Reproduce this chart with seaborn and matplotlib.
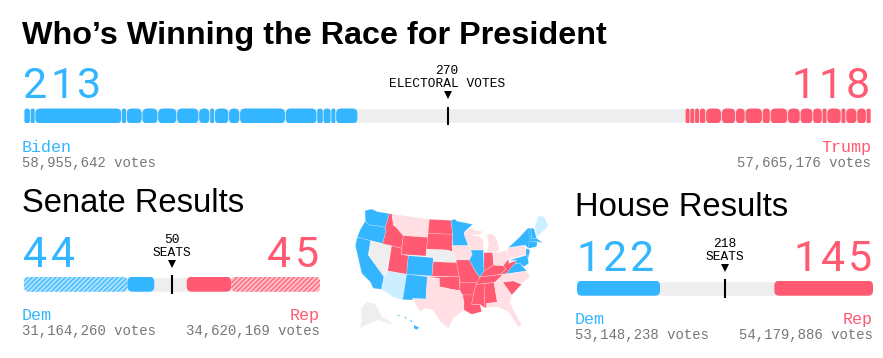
"""Election night results: presidential, senate and house seat bars plus a state map."""

import matplotlib.pyplot as plt
import numpy as np
import pandas as pd
import seaborn as sns
from matplotlib.patches import FancyBboxPatch, Polygon

WIDTH, HEIGHT = 883, 358

BLUE = "#33b6ff"
RED = "#ff5a72"
LIGHT_BLUE = "#cdeeff"
PINK = "#ffdfe3"
TRACK = "#eeeeee"
GRAY = "#777777"

biden_states = [4, 3, 55, 3, 10, 10, 12, 14, 7, 3, 9, 7, 29, 20, 4, 5, 3, 14]
trump_states = [3, 3, 3, 4, 10, 9, 6, 11, 5, 11, 8, 8, 6, 3, 9, 3, 7, 6, 3]
senate_dem = [35, 9]
senate_rep = [15, 30]
house_dem = [122]
house_rep = [145]

electoral_total, electoral_mid = 538, 269
senate_total, senate_mid = 100, 50
house_total, house_mid = 435, 217.5

# state outlines, grouped by call
state_shapes = {
    "WA": [(75, 47), (95, 42), (112, 50), (148, 56), (136, 97), (108, 92), (86, 90), (76, 78)],
    "OR": [(76, 78), (86, 90), (108, 92), (136, 97), (138, 108), (128, 146), (92, 137), (52, 126), (60, 105)],
    "CA": [(52, 126), (92, 137), (85, 180), (132, 245), (125, 283), (100, 280), (90, 260), (65, 235), (55, 190), (46, 152)],
    "NV": [(92, 137), (155, 152), (135, 245), (132, 245), (85, 180)],
    "ID": [(148, 56), (156, 57), (160, 90), (172, 100), (190, 122), (185, 160), (155, 152), (128, 146), (138, 108), (136, 97)],
    "MT": [(156, 57), (268, 73), (263, 127), (190, 122), (172, 100), (160, 90)],
    "WY": [(190, 122), (263, 127), (258, 183), (183, 178)],
    "UT": [(155, 152), (185, 160), (183, 178), (205, 182), (200, 238), (143, 228)],
    "AZ": [(143, 228), (200, 238), (188, 314), (163, 308), (124, 283), (132, 245), (135, 245)],
    "CO": [(205, 182), (280, 188), (276, 243), (200, 238)],
    "NM": [(200, 238), (262, 245), (258, 312), (218, 310), (218, 315), (188, 314)],
    "ND": [(268, 73), (333, 76), (338, 118), (264, 115)],
    "SD": [(264, 115), (338, 118), (336, 158), (338, 170), (320, 165), (260, 163)],
    "NE": [(260, 163), (320, 165), (338, 170), (348, 195), (350, 203), (280, 200), (280, 188), (258, 183)],
    "KS": [(280, 200), (350, 203), (358, 245), (276, 243)],
    "OK": [(262, 245), (358, 245), (360, 287), (330, 282), (298, 275), (298, 250), (262, 250)],
    "TX": [(262, 245), (298, 250), (298, 275), (330, 282), (360, 287), (368, 300), (372, 320), (372, 345), (340, 370),
           (325, 400), (300, 380), (280, 345), (255, 340), (240, 350), (218, 312), (258, 312)],
    "MN": [(333, 76), (345, 72), (350, 78), (398, 88), (372, 112), (375, 125), (385, 152), (338, 152), (338, 118)],
    "IA": [(338, 152), (385, 152), (392, 165), (397, 178), (388, 195), (348, 195), (338, 170)],
    "MO": [(348, 195), (388, 195), (410, 235), (420, 246), (412, 262), (360, 262), (358, 245)],
    "AR": [(360, 262), (412, 262), (408, 268), (400, 300), (368, 300), (360, 287)],
    "LA": [(368, 300), (400, 300), (395, 328), (420, 328), (425, 350), (395, 358), (372, 345), (372, 320)],
    "MS": [(408, 268), (435, 266), (433, 338), (420, 328), (395, 328), (400, 300)],
    "AL": [(435, 266), (462, 262), (472, 322), (440, 325), (440, 338), (433, 338)],
    "TN": [(408, 268), (420, 246), (490, 238), (465, 262)],
    "KY": [(420, 246), (432, 228), (461, 210), (490, 212), (498, 222), (482, 238)],
    "IL": [(392, 165), (430, 165), (432, 228), (420, 246), (410, 235), (388, 195), (397, 178)],
    "IN": [(432, 173), (458, 172), (461, 210), (432, 228)],
    "WI": [(372, 112), (398, 120), (420, 125), (430, 135), (430, 165), (392, 165), (385, 152), (375, 125)],
    "MI": [(440, 120), (455, 115), (465, 125), (470, 135), (478, 160), (470, 172), (440, 172), (446, 145)],
    "MI_U": [(372, 113), (395, 98), (400, 105), (430, 110), (420, 118), (400, 120)],
    "OH": [(458, 172), (478, 172), (500, 165), (505, 192), (490, 212), (461, 210)],
    "WV": [(490, 212), (505, 192), (507, 205), (530, 196), (525, 205), (498, 238), (482, 238), (498, 222)],
    "PA": [(502, 160), (555, 150), (562, 178), (505, 192)],
    "NY": [(505, 158), (540, 125), (563, 100), (572, 100), (578, 145), (565, 160), (555, 150)],
    "VT": [(563, 100), (572, 100), (575, 130), (570, 130)],
    "NH": [(572, 100), (582, 100), (590, 130), (575, 130)],
    "ME": [(585, 95), (595, 62), (612, 65), (625, 93), (598, 120), (590, 125)],
    "MA": [(570, 130), (590, 130), (608, 143), (590, 140), (570, 140)],
    "CT": [(566, 140), (592, 140), (590, 155), (566, 160)],
    "NJ": [(558, 160), (570, 165), (565, 188), (558, 182)],
    "MD": [(507, 196), (562, 180), (566, 205), (552, 215), (540, 205), (525, 205), (530, 196)],
    "VA": [(475, 240), (498, 236), (525, 205), (540, 205), (560, 228)],
    "NC": [(465, 262), (490, 238), (560, 228), (570, 245), (545, 265), (520, 258), (488, 262)],
    "SC": [(488, 262), (520, 258), (545, 268), (515, 300)],
    "GA": [(462, 262), (488, 262), (515, 300), (510, 325), (472, 322)],
    "FL": [(440, 325), (472, 322), (510, 325), (545, 390), (535, 395), (505, 350), (470, 335), (440, 338)],
    "AK": [(80, 322), (105, 325), (125, 365), (158, 385), (150, 388), (115, 375), (90, 385), (60, 400), (65, 370), (62, 340)],
    "HI1": [(172, 360), (179, 360), (177, 365)],
    "HI2": [(192, 365), (200, 367), (198, 372)],
    "HI3": [(208, 375), (218, 378), (214, 382)],
    "HI4": [(222, 390), (238, 398), (230, 404), (222, 400)],
}
dem_states = ["WA", "OR", "CA", "CO", "NM", "MN", "IL", "VA", "NY", "VT", "NH", "MA", "CT", "NJ", "MD",
              "HI1", "HI2", "HI3", "HI4"]
lean_dem_states = ["ME", "AZ"]
lean_rep_states = ["MT", "TX", "WI", "MI", "MI_U", "OH", "PA", "GA", "NC", "FL", "IA"]
open_states = ["NV", "NE", "AK"]


def px_axes(fig, left, top, width, height):
    """Add axes placed with pixel coordinates measured from the top left."""
    ax = fig.add_axes([left / WIDTH, 1 - (top + height) / HEIGHT, width / WIDTH, height / HEIGHT])
    ax.axis("off")
    return ax


def rounded_bar(ax, start, size, color, px_per_unit, radius=5, hatch=None, face=None):
    """Draw one bar with seaborn, then swap it for a rounded copy."""
    frame = pd.DataFrame({"seats": [size], "row": ["a"]})
    sns.barplot(data=frame, x="seats", y="row", left=start, width=1, color=color, ax=ax, orient="h")
    bar = ax.patches[-1]
    bar.remove()
    height_px = 15
    rounding = min(radius / px_per_unit, size / 2)
    box = FancyBboxPatch(
        (start, -0.5), size, 1,
        boxstyle=f"round,pad=0,rounding_size={rounding}",
        mutation_aspect=px_per_unit / height_px,
        facecolor=face or color, edgecolor=color if hatch else "none",
        hatch=hatch, linewidth=0,
    )
    ax.add_patch(box)


def seat_bar(fig, left, top, width, total, mid, dem, rep, gap=0.0, hatched=(None, None)):
    """Seat track with blue segments from the left and red ones from the right."""
    ax = px_axes(fig, left, top, width, 15)
    scale = width / total
    frame = pd.DataFrame({"seats": [total], "row": ["a"]})
    sns.barplot(data=frame, x="seats", y="row", width=1, color=TRACK, saturation=1, ax=ax, orient="h")

    for i, (start, size) in enumerate(zip(np.cumsum([0] + dem[:-1]), dem)):
        if hatched[0] == i:
            rounded_bar(ax, start, size, BLUE, scale, hatch="///////", face="#a8e0ff")
        else:
            rounded_bar(ax, start + gap / 2, size - gap, BLUE, scale)
    rep_start = total - sum(rep)
    for i, (start, size) in enumerate(zip(rep_start + np.cumsum([0] + rep[:-1]), rep)):
        if hatched[1] == i:
            rounded_bar(ax, start, size, RED, scale, hatch="///////", face="#ffbcc5")
        else:
            rounded_bar(ax, start + gap / 2, size - gap, RED, scale)

    ax.set_xlim(0, total)
    ax.set_ylim(0.5, -0.5)
    ax.axis("off")
    ax.plot([mid, mid], [-0.63, 0.63], color="black", lw=1.5, clip_on=False, solid_capstyle="butt", zorder=5)
    ax.plot([mid], [-1.37], marker="v", color="black", ms=6, mew=0, clip_on=False, zorder=5)
    return ax


sns.set_theme(style="white")
plt.rcParams["hatch.linewidth"] = 0.8

fig = plt.figure(figsize=(WIDTH / 100, HEIGHT / 100), dpi=100, facecolor="white")

seat_bar(fig, 24, 108.5, 847, electoral_total, electoral_mid, biden_states, trump_states, gap=0.5)
seat_bar(fig, 24, 276.7, 296, senate_total, senate_mid, senate_dem, senate_rep, hatched=(0, 1))
seat_bar(fig, 577, 280.7, 296, house_total, house_mid, house_dem, house_rep)

map_ax = px_axes(fig, 340, 195, 220, 163)
map_ax.set_xlim(0, 660)
map_ax.set_ylim(489, 0)
for state, shape in state_shapes.items():
    if state in dem_states:
        color = BLUE
    elif state in lean_dem_states:
        color = LIGHT_BLUE
    elif state in lean_rep_states:
        color = PINK
    elif state in open_states:
        color = TRACK
    else:
        color = RED
    map_ax.add_patch(Polygon(shape, closed=True, facecolor=color, edgecolor="#ffffff55", linewidth=0.4))

# all text sits on one overlay in pixel coordinates
text_ax = px_axes(fig, 0, 0, WIDTH, HEIGHT)
text_ax.set_xlim(0, WIDTH)
text_ax.set_ylim(HEIGHT, 0)
text_ax.patch.set_alpha(0)

SANS = "Liberation Sans"
MONO = "Liberation Mono"


def label(x, y, text, size, color="black", ha="left", family=MONO, **kwargs):
    text_ax.text(x, y, text, fontsize=size, color=color, ha=ha, va="baseline", family=family, **kwargs)


def big_number(x, y, text, color, ha="left"):
    """Seat count with digits set on a fixed 27 px pitch."""
    first = x if ha == "left" else x - 27 * len(text)
    for i, digit in enumerate(text):
        label(first + 27 * (i + 0.5), y, digit, 31, color, ha="center", family="Roboto")


label(22, 44, "Who’s Winning the Race for President", 23.3, family=SANS, fontweight="bold")
label(22, 212, "Senate Results", 23.6, family=SANS)
label(575, 216, "House Results", 23.6, family=SANS)

big_number(22, 98, "213", BLUE)
big_number(871, 98, "118", RED, ha="right")
label(447, 74, "270", 9.3, ha="center")
label(447, 87, "ELECTORAL VOTES", 9.3, ha="center")
label(22, 152, "Biden", 12, BLUE)
label(871, 152, "Trump", 12, RED, ha="right")
label(22, 167, "58,955,642 votes", 10.1, GRAY)
label(871, 167, "57,665,176 votes", 10.1, GRAY, ha="right")

big_number(22, 267, "44", BLUE)
big_number(320, 267, "45", RED, ha="right")
label(172, 243, "50", 9.3, ha="center")
label(172, 256, "SEATS", 9.3, ha="center")
label(22, 320, "Dem", 12, BLUE)
label(320, 320, "Rep", 12, RED, ha="right")
label(22, 335, "31,164,260 votes", 10.1, GRAY)
label(320, 335, "34,620,169 votes", 10.1, GRAY, ha="right")

big_number(575, 271, "122", BLUE)
big_number(873, 271, "145", RED, ha="right")
label(725, 247, "218", 9.3, ha="center")
label(725, 260, "SEATS", 9.3, ha="center")
label(575, 324, "Dem", 12, BLUE)
label(873, 324, "Rep", 12, RED, ha="right")
label(575, 339, "53,148,238 votes", 10.1, GRAY)
label(873, 339, "54,179,886 votes", 10.1, GRAY, ha="right")

fig.savefig("out.png", dpi=100)
